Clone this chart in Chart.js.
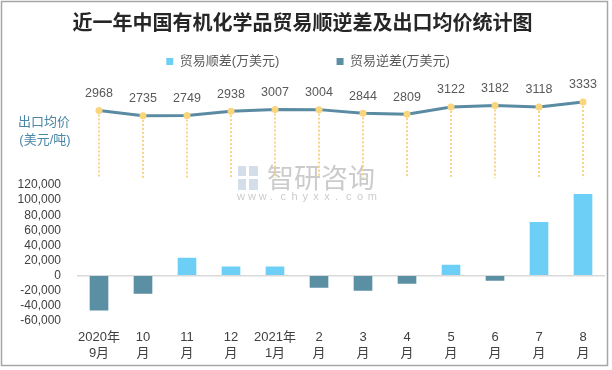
<!DOCTYPE html>
<html>
<head>
<meta charset="utf-8">
<script src="https://cdn.jsdelivr.net/npm/chart.js@4.4.0/dist/chart.umd.min.js"></script>
<style>
    html, body { margin: 0; padding: 0; background: #fff; }
</style>
</head>
<body>
<canvas id="myChart" width="612" height="370"></canvas>
<script>
// Dados do gráfico
var months = [['2020年', '9月'], ['10', '月'], ['11', '月'], ['12', '月'], ['2021年', '1月'], ['2', '月'], ['3', '月'], ['4', '月'], ['5', '月'], ['6', '月'], ['7', '月'], ['8', '月']];
var surplus = [null, null, 23300, 11400, 11400, null, null, null, 14000, null, 70600, 107500];
var deficit = [-46000, -23700, null, null, null, -15800, -19700, -10500, null, -6600, null, null];
var avgPrice = [2968, 2735, 2749, 2938, 3007, 3004, 2844, 2809, 3122, 3182, 3118, 3333];
var barMin = -60000, barMax = 120000, barStep = 20000;
var priceMin = -255, priceMax = 4371;

var FONT = "'Liberation Sans', 'Noto Sans CJK SC', sans-serif";
Chart.defaults.font.family = FONT;

// Plugin para moldura, marca d'água, linhas pontilhadas e rótulos
var decorPlugin = {
    id: 'decor',
    afterLayout: function (chart) {
        // desloca a legenda um pouco para a direita
        if (chart.legend && chart.legend.lineWidths) {
            chart.legend.lineWidths[0] -= 11;
        }
    },
    beforeDatasetsDraw: function (chart) {
        var ctx = chart.ctx;
        ctx.save();
        // marca d'água
        ctx.fillStyle = 'rgba(185,185,185,0.75)';
        ctx.font = "27px 'Noto Sans CJK SC'";
        ctx.textAlign = 'left';
        ctx.textBaseline = 'middle';
        ctx.fillText('智研咨询', 267, 178);
        ctx.font = "11px 'Liberation Sans'";
        var site = 'www.chyxx.com';
        for (var k = 0; k < site.length; k++) {
            ctx.fillText(site[k], 237 + k * 10.9, 197);
        }
        ctx.fillStyle = 'rgba(200,214,228,0.8)';
        ctx.fillRect(238, 166, 8, 10);
        ctx.fillRect(249, 166, 9, 10);
        ctx.fillRect(238, 179, 8, 11);
        ctx.fillRect(249, 179, 9, 11);

        // linhas pontilhadas
        var meta = chart.getDatasetMeta(2);
        var y2 = chart.scales.y2;
        ctx.strokeStyle = '#f8d586';
        ctx.lineWidth = 2;
        ctx.setLineDash([2, 2]);
        meta.data.forEach(function (pt) {
            ctx.beginPath();
            ctx.moveTo(pt.x, pt.y);
            ctx.lineTo(pt.x, y2.getPixelForValue(40));
            ctx.stroke();
        });
        ctx.restore();
    },
    afterDatasetsDraw: function (chart) {
        var ctx = chart.ctx;
        var meta = chart.getDatasetMeta(2);
        ctx.save();
        ctx.fillStyle = '#595959';
        ctx.font = "12.5px " + FONT;
        ctx.textAlign = 'center';
        ctx.textBaseline = 'middle';
        meta.data.forEach(function (pt, i) {
            ctx.fillText(String(avgPrice[i]), pt.x, pt.y - 17);
        });
        // título do eixo do preço
        ctx.fillStyle = '#4a86a6';
        ctx.font = "13px " + FONT;
        ctx.fillText('出口均价', 44, 122);
        ctx.fillText('(美元/吨)', 45, 140);
        ctx.restore();
    },
    afterDraw: function (chart) {
        var ctx = chart.ctx;
        ctx.save();
        ctx.strokeStyle = '#a6a6a6';
        ctx.lineWidth = 1.5;
        ctx.strokeRect(1.5, 1.5, 606, 364);
        ctx.restore();
    }
};

var ctx = document.getElementById('myChart').getContext('2d');
var myChart = new Chart(ctx, {
    type: 'bar',
    data: {
        labels: months,
        datasets: [{
            label: '贸易顺差(万美元)',
            data: surplus,
            backgroundColor: '#6dcff6',
            borderWidth: 0,
            barThickness: 18,
            yAxisID: 'y'
        }, {
            label: '贸易逆差(万美元)',
            data: deficit,
            backgroundColor: '#5b8fa4',
            borderWidth: 0,
            barThickness: 18,
            yAxisID: 'y'
        }, {
            type: 'line',
            label: '出口均价',
            data: avgPrice,
            yAxisID: 'y2',
            borderColor: '#5a8ba3',
            borderWidth: 3,
            pointRadius: 3.5,
            pointBackgroundColor: '#f9d57c',
            pointBorderWidth: 0,
            tension: 0
        }]
    },
    options: {
        responsive: false,
        animation: false,
        maintainAspectRatio: false,
        layout: { padding: { left: 0, right: 7, top: 0, bottom: 0 } },
        plugins: {
            title: {
                display: true,
                text: '近一年中国有机化学品贸易顺逆差及出口均价统计图',
                color: '#262626',
                font: { size: 20, weight: 'bold', family: "'Noto Sans CJK SC'" },
                padding: { top: 10, bottom: 0 }
            },
            legend: {
                display: true,
                labels: {
                    color: '#595959',
                    font: { size: 13 },
                    boxWidth: 7,
                    boxHeight: 7,
                    padding: 21,
                    filter: function (item) { return item.datasetIndex < 2; },
                    generateLabels: function (chart) {
                        var items = Chart.defaults.plugins.legend.labels.generateLabels(chart);
                        items[0].text = items[0].text + '          ';
                        return items;
                    }
                }
            },
            tooltip: { enabled: false }
        },
        scales: {
            x: {
                stacked: true,
                grid: { display: false, drawTicks: false },
                border: { display: false },
                ticks: { color: '#404040', font: { size: 13 }, padding: 9, maxRotation: 0, autoSkip: false }
            },
            y: {
                stacked: true,
                stack: 'v',
                stackWeight: 137.4,
                weight: 0,
                min: barMin,
                max: barMax,
                grid: {
                    drawTicks: false,
                    color: function (c) { return c.tick && c.tick.value === 0 ? '#d9d9d9' : 'rgba(0,0,0,0)'; },
                    lineWidth: 1.5
                },
                border: { display: false },
                ticks: {
                    stepSize: barStep,
                    autoSkip: false,
                    color: '#404040',
                    font: { size: 12 },
                    padding: 16,
                    callback: function (v) { return v.toLocaleString('en-US'); }
                },
                afterFit: function (scale) { scale.width = 77; }
            },
            y2: {
                stack: 'v',
                stackWeight: 108.3,
                weight: 1,
                min: priceMin,
                max: priceMax,
                grid: { display: false, drawTicks: false },
                border: { display: false },
                ticks: { display: false },
                afterFit: function (scale) { scale.width = 77; }
            }
        }
    },
    plugins: [decorPlugin]
});
</script>
</body>
</html>
